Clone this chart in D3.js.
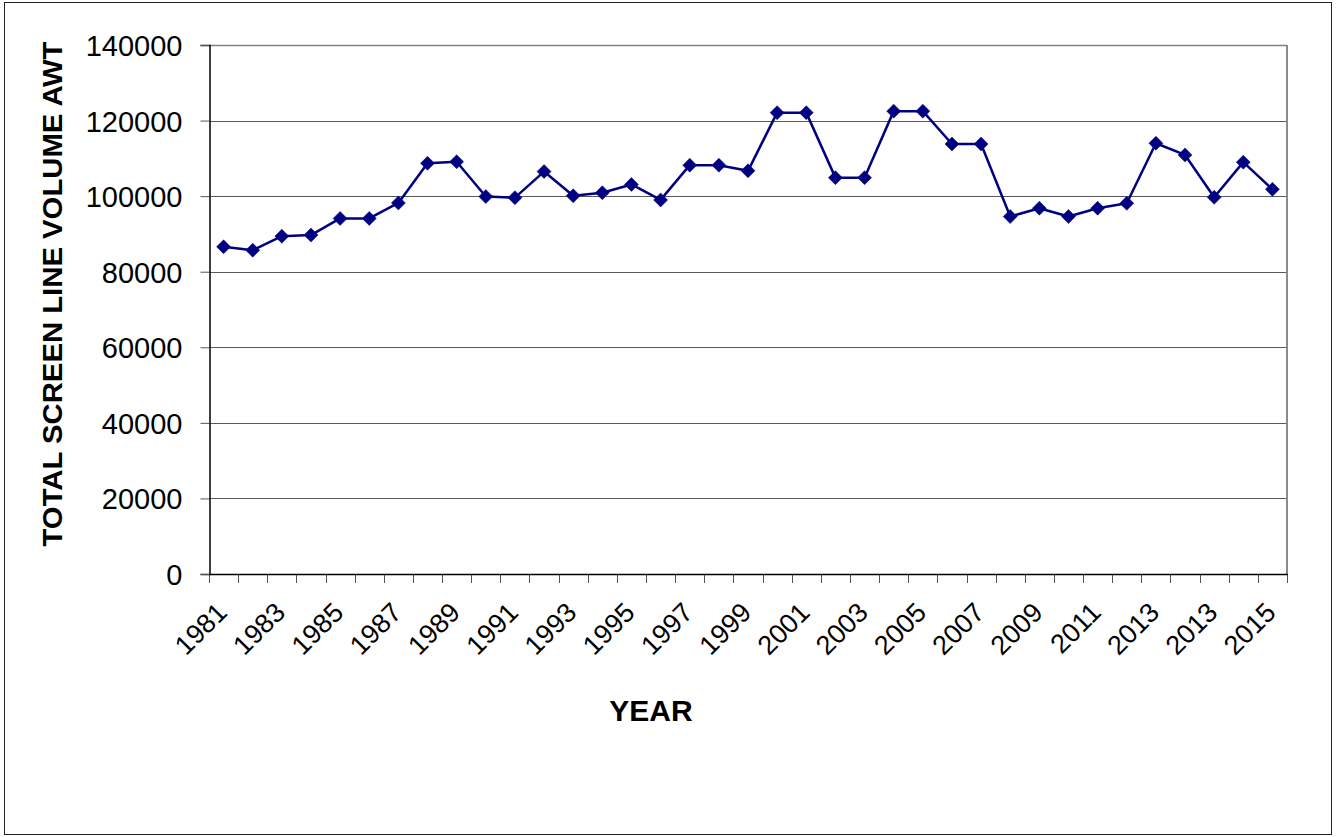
<!DOCTYPE html>
<html>
<head>
<meta charset="utf-8">
<script src="https://cdn.jsdelivr.net/npm/d3@7"></script>
<style>
  html, body { margin: 0; padding: 0; background: #fff; }
  svg { display: block; }
  text { font-family: "Liberation Sans", Arial, sans-serif; fill: #000; }
</style>
</head>
<body>
<svg id="chart" width="1338" height="837"></svg>
<script>
// ---- data ----
const years = ["1981","1982","1983","1984","1985","1986","1987","1988","1989","1990",
  "1991","1992","1993","1994","1995","1996","1997","1998","1999","2000",
  "2001","2002","2003","2004","2005","2006","2007","2008","2009","2010",
  "2011","2012","2013","2013","2013","2014","2015"];
const volumes = [86600, 85700, 89400, 89700, 94100, 94100, 98200, 108700, 109100, 99900,
  99600, 106500, 100100, 100900, 103100, 99000, 108200, 108200, 106700, 122100,
  122100, 104900, 104900, 122500, 122500, 113800, 113800, 94600, 96800, 94600,
  96800, 98100, 114000, 110900, 99700, 109000, 101800];
const yTicks = [0, 20000, 40000, 60000, 80000, 100000, 120000, 140000];
const xTitle = "YEAR";
const yTitle = "TOTAL SCREEN LINE VOLUME AWT";

// ---- layout ----
const svg = d3.select("#chart");
const plot = { left: 209, right: 1287, top: 45, bottom: 574 };

svg.append("rect")
  .attr("x", 4.5).attr("y", 2.5).attr("width", 1327).attr("height", 832)
  .attr("fill", "#fff").attr("stroke", "#222").attr("stroke-width", 1);

const idx = d3.range(volumes.length);
const x = d3.scaleBand().domain(idx).range([plot.left, plot.right]).padding(0);
const y = d3.scaleLinear().domain([0, 140000]).range([plot.bottom, plot.top]);

// gridlines
svg.append("g").selectAll("line").data(yTicks.filter(d => d > 0 && d < 140000)).join("line")
  .attr("x1", plot.left).attr("x2", plot.right)
  .attr("y1", d => Math.round(y(d)) + 0.5).attr("y2", d => Math.round(y(d)) + 0.5)
  .attr("stroke", "#5a5a5a").attr("stroke-width", 1);

// plot border (top & right gray)
svg.append("line").attr("x1", plot.left).attr("x2", plot.right)
  .attr("y1", plot.top + 0.5).attr("y2", plot.top + 0.5)
  .attr("stroke", "#808080").attr("stroke-width", 1.5);
svg.append("line").attr("x1", plot.right).attr("x2", plot.right)
  .attr("y1", plot.top).attr("y2", plot.bottom)
  .attr("stroke", "#8a8a8a").attr("stroke-width", 2);

// y axis
const yAxis = d3.axisLeft(y).tickValues(yTicks).tickSize(9).tickPadding(18)
  .tickFormat(d3.format("d"));
const gy = svg.append("g").attr("transform", `translate(${plot.left + 0.5},0)`).call(yAxis);
gy.select(".domain").attr("stroke", "#000").attr("stroke-width", 1.5);
gy.selectAll(".tick line").attr("stroke", "#555");
gy.selectAll(".tick text")
  .attr("font-size", 29).attr("font-family", "Liberation Sans, Arial, sans-serif")
  .attr("fill", "#000").attr("x", -27).attr("dy", "0.36em");

// x axis ticks at category boundaries
const boundaries = d3.range(volumes.length + 1).map(i => plot.left + i * x.bandwidth());
svg.append("g").selectAll("line").data(boundaries).join("line")
  .attr("x1", d => Math.round(d) + 0.5).attr("x2", d => Math.round(d) + 0.5)
  .attr("y1", plot.bottom).attr("y2", plot.bottom + 9)
  .attr("stroke", "#555").attr("stroke-width", 1);
svg.append("line").attr("x1", plot.left).attr("x2", plot.right + 1)
  .attr("y1", plot.bottom + 0.5).attr("y2", plot.bottom + 0.5)
  .attr("stroke", "#000").attr("stroke-width", 1.5);

// x labels (every other category)
svg.append("g").selectAll("text").data(idx.filter(i => i % 2 === 0)).join("text")
  .attr("transform", i => `translate(${x(i) + x.bandwidth() / 2 + 5},614) rotate(-45)`)
  .attr("text-anchor", "end")
  .attr("font-size", 27)
  .text(i => years[i]);

// line
const line = d3.line().x(i => x(i) + x.bandwidth() / 2).y(i => y(volumes[i]));
svg.append("path").datum(idx).attr("d", line)
  .attr("fill", "none").attr("stroke", "#000080").attr("stroke-width", 2.5)
  .attr("stroke-linejoin", "round");

// diamond markers
const r = 7;
svg.append("g").selectAll("path").data(idx).join("path")
  .attr("transform", i => `translate(${x(i) + x.bandwidth() / 2},${y(volumes[i])})`)
  .attr("d", `M0,${-r}L${r},0L0,${r}L${-r},0Z`)
  .attr("fill", "#000080").attr("stroke", "#000080").attr("stroke-width", 0.5);

// titles
svg.append("text").attr("x", 651).attr("y", 721)
  .attr("text-anchor", "middle").attr("font-size", 30).attr("font-weight", "bold")
  .text(xTitle);
svg.append("text").attr("transform", "translate(62,294) rotate(-90)")
  .attr("text-anchor", "middle").attr("font-size", 28).attr("font-weight", "bold")
  .attr("textLength", 505).attr("lengthAdjust", "spacingAndGlyphs")
  .text(yTitle);
</script>
</body>
</html>
